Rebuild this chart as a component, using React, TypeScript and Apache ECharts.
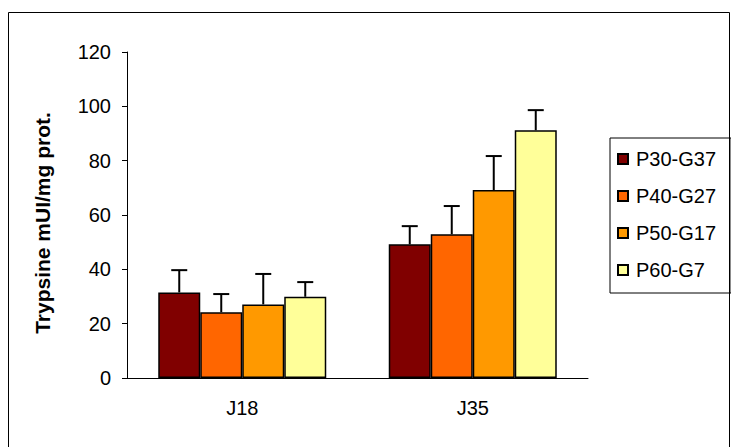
import React, { useEffect, useRef } from "react";
import * as echarts from "echarts";

const categories = ["J18", "J35"];
const seriesNames = ["P30-G37", "P40-G27", "P50-G17", "P60-G7"];
const seriesColors = ["#800000", "#FF6600", "#FF9900", "#FFFF99"];
const p30Values = [31.5, 49.2];
const p40Values = [24.2, 52.9];
const p50Values = [27.1, 69.2];
const p60Values = [29.9, 91.2];
const p30Errors = [8.2, 6.7];
const p40Errors = [6.7, 10.4];
const p50Errors = [11.2, 12.5];
const p60Errors = [5.4, 7.4];
const yTicks = [0, 20, 40, 60, 80, 100, 120];

const BAR_W = 42;

export default function App() {
  const ref = useRef<HTMLDivElement>(null);
  useEffect(() => {
    if (!ref.current) return;
    const chart = echarts.init(ref.current, null, { renderer: "svg" });
    const values = [p30Values, p40Values, p50Values, p60Values];
    const errors = [p30Errors, p40Errors, p50Errors, p60Errors];
    const errData: number[][] = [];
    values.forEach((vals, s) => {
      vals.forEach((v, c) => {
        errData.push([c, v, v + errors[s][c], s]);
      });
    });
    const font = "Arial, 'Liberation Sans', sans-serif";
    chart.setOption({
      animation: false,
      backgroundColor: "#fff",
      textStyle: { fontFamily: font, color: "#000" },
      grid: { left: 127, top: 52, right: 143, bottom: 69 },
      legend: {
        orient: "vertical",
        left: 610,
        top: 138,
        data: seriesNames,
        icon: "rect",
        itemWidth: 10,
        itemHeight: 10,
        itemGap: 17,
        padding: [11, 15, 13, 7],
        borderColor: "#000",
        borderWidth: 1,
        textStyle: { fontSize: 20, fontFamily: font, color: "#000", padding: [0, 0, 0, 3] },
      },
      xAxis: {
        type: "category",
        data: categories,
        axisLine: { lineStyle: { color: "#000", width: 1 } },
        axisTick: { length: 6, lineStyle: { color: "#000" } },
        axisLabel: { fontSize: 20, color: "#000", margin: 20, fontFamily: font },
      },
      yAxis: {
        type: "value",
        min: 0,
        max: 120,
        interval: 20,
        axisLine: { show: true, lineStyle: { color: "#000", width: 1 } },
        axisTick: { show: true, length: 5, lineStyle: { color: "#000" } },
        splitLine: { show: false },
        axisLabel: {
          fontSize: 20,
          color: "#000",
          margin: 16,
          fontFamily: font,
          formatter: (v: number) => (yTicks.includes(v) ? String(v) : ""),
        },
      },
      graphic: [
        {
          type: "rect",
          shape: { x: 8.5, y: 12.5, width: 721, height: 450 },
          style: { fill: "none", stroke: "#000", lineWidth: 1 },
          silent: true,
        },
        {
          type: "text",
          x: 42,
          y: 223,
          rotation: Math.PI / 2,
          style: {
            text: "Trypsine mUI/mg prot.",
            fontSize: 21,
            fontWeight: "bold",
            fontFamily: font,
            fill: "#000",
            align: "center",
            verticalAlign: "middle",
          },
        },
      ],
      series: [
        ...values.map((vals, s) => ({
          name: seriesNames[s],
          type: "bar",
          data: vals,
          barWidth: BAR_W,
          barGap: "0%",
          itemStyle: { color: seriesColors[s], borderColor: "#000", borderWidth: 1.5 },
        })),
        {
          type: "custom",
          name: "err",
          data: errData,
          z: 5,
          renderItem: (params: any, api: any) => {
            const c = api.value(0);
            const s = api.value(3);
            const base = api.coord([c, api.value(1)]);
            const top = api.coord([c, api.value(2)]);
            const x = base[0] + (s - 1.5) * BAR_W;
            return {
              type: "group",
              children: [
                {
                  type: "line",
                  shape: { x1: x, y1: base[1], x2: x, y2: top[1] },
                  style: { stroke: "#000", lineWidth: 2 },
                },
                {
                  type: "line",
                  shape: { x1: x - 8, y1: top[1], x2: x + 8, y2: top[1] },
                  style: { stroke: "#000", lineWidth: 2 },
                },
              ],
            };
          },
        },
      ],
    });
    return () => chart.dispose();
  }, []);
  return (
    <div
      ref={ref}
      style={{ position: "absolute", left: 0, top: 0, width: 731, height: 447 }}
    />
  );
}
